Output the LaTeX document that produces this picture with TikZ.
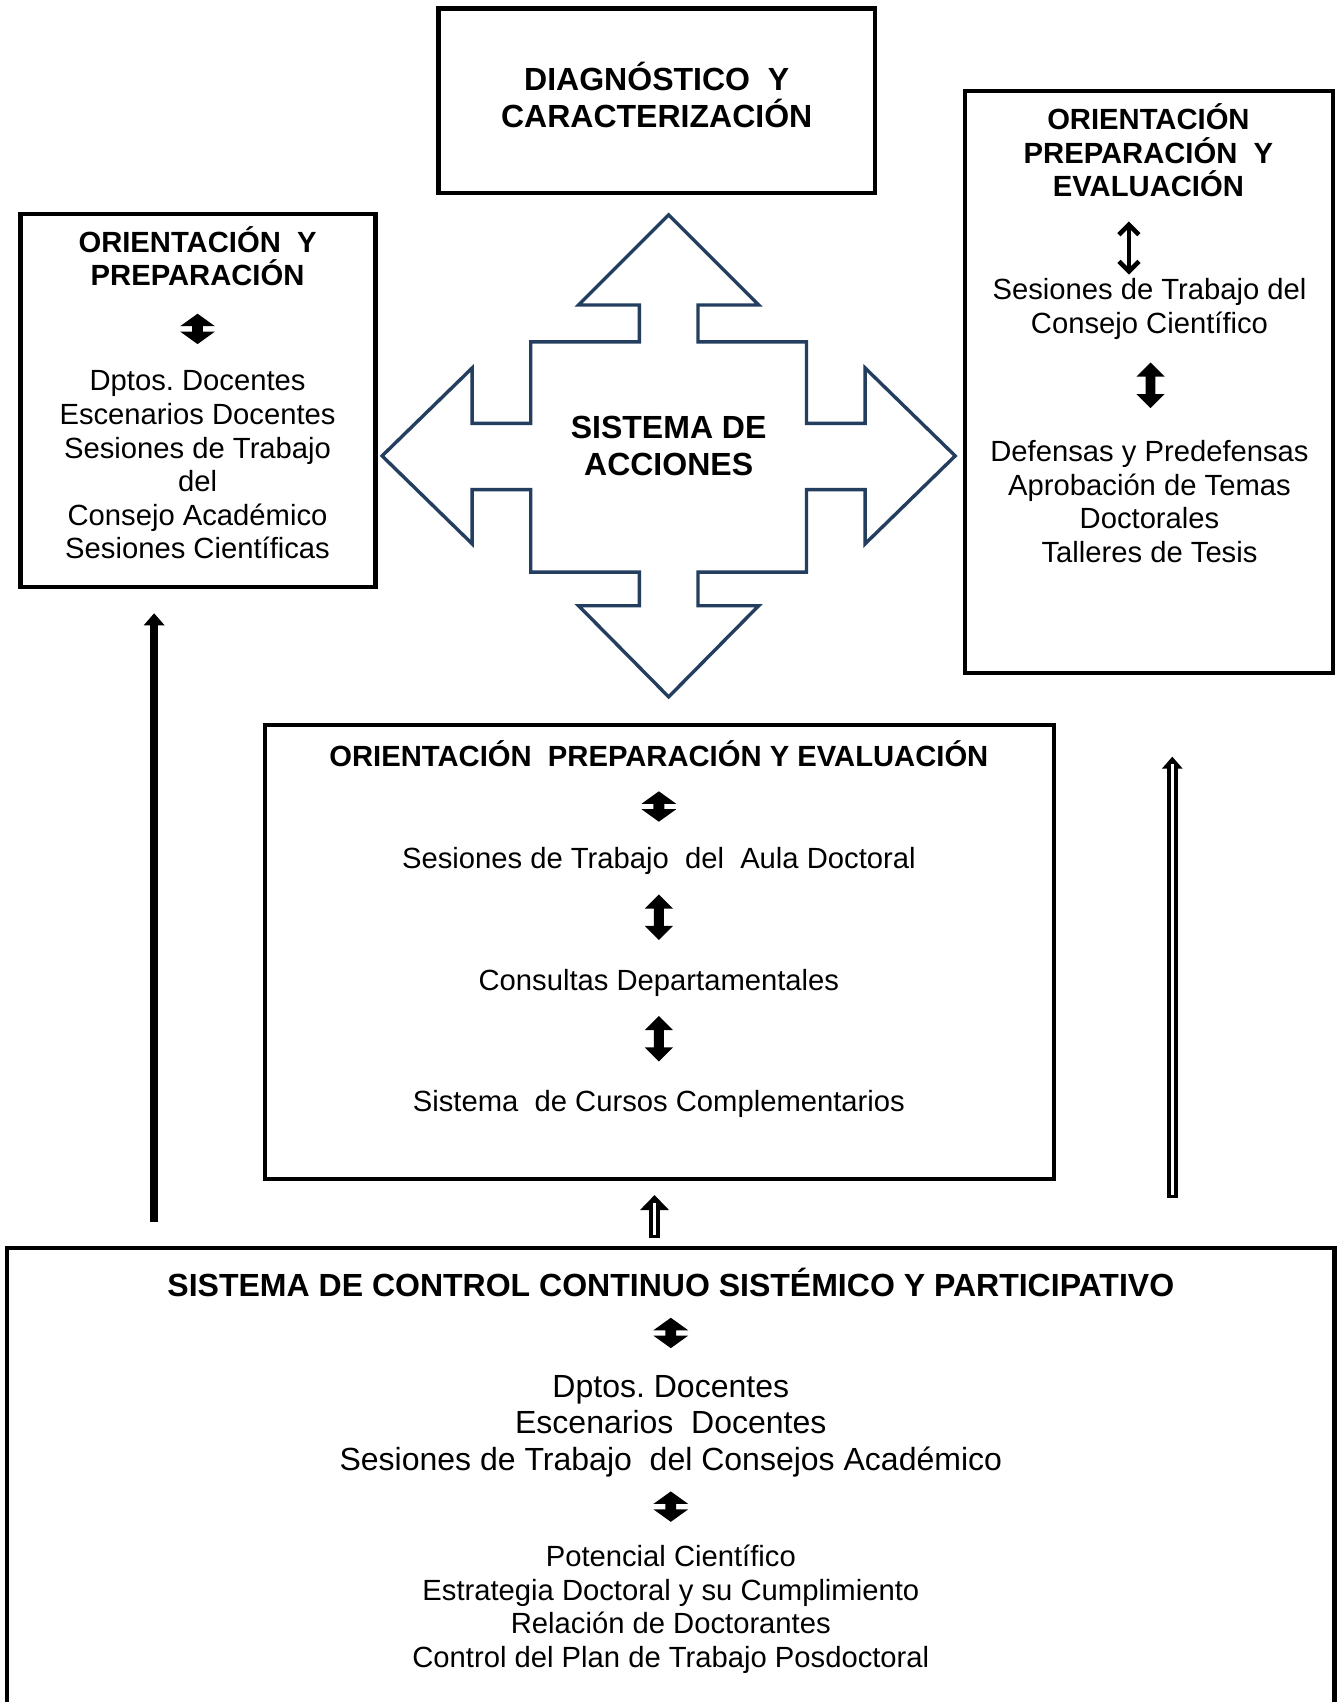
\documentclass[tikz,border=0pt]{standalone}
\usepackage{fontspec}
\setmainfont{Liberation Sans}
\usetikzlibrary{fit,arrows.meta}
\definecolor{navy}{RGB}{36,62,96}
\newcommand{\nolsl}{\lineskiplimit=-20pt\relax}
\frenchspacing
\begin{document}
\begin{tikzpicture}[x=0.5425pt,y=-0.5425pt,
 box/.style={draw, line width=2.2pt, inner sep=0pt},
 ttl/.style={anchor=north, align=center, inner sep=0pt, font={\bfseries\fontsize{14.6}{16.8}\selectfont\nolsl}},
 ttlb/.style={anchor=north, align=center, inner sep=0pt, font={\bfseries\fontsize{16}{18.4}\selectfont\nolsl}},
 txt/.style={anchor=north, align=center, inner sep=0pt, font={\fontsize{14.6}{16.8}\selectfont\nolsl}},
 txtb/.style={anchor=north, align=center, inner sep=0pt, font={\fontsize{16}{18.4}\selectfont\nolsl}},
 udsq/.pic={\fill (0,-14) -- (16,-2.5) -- (5,-2.5) -- (5,2.5) -- (16,2.5) -- (0,14) -- (-16,2.5) -- (-5,2.5) -- (-5,-2.5) -- (-16,-2.5) -- cycle;},
 udtall/.pic={\fill (0,-21) -- (13,-8) -- (4.5,-8) -- (4.5,8) -- (13,8) -- (0,21) -- (-13,8) -- (-4.5,8) -- (-4.5,-8) -- (-13,-8) -- cycle;},
 blockarr/.style={line width=5.5pt},
 slit/.style={white, line width=1.4pt},
]
\useasboundingbox (0,0) rectangle (1232,1568);
\fill[white] (0,0) rectangle (1232,1568);
\clip (0,0) rectangle (1232,1568);

% boxes
\node[box, fit={(404,8) (806,178)}] (top) {};
\node[box, fit={(19,197) (346,541)}] (lbox) {};
\node[box, fit={(889,84) (1228,620)}] (rbox) {};
\node[box, fit={(244,668) (971,1086)}] (mid) {};
\node[inner sep=0pt, fit={(7,1150) (1229,1620)}] (bot) {};
\draw[line width=2.2pt] (bot.south west) -- (bot.north west) -- (bot.north east) -- (bot.south east);

% top box
\node[ttlb] (topt) at (605,57) {\strut DIAGNÓSTICO~ Y\\CARACTERIZACIÓN\strut};

% central four-way arrow
\draw[navy, line width=1.7pt, line join=miter]
 (616,198) -- (699,281) -- (643,281) -- (643,315) -- (743,315) -- (743,390) -- (797,390) -- (797,339)
 -- (880,420) -- (797,501) -- (797,451) -- (743,451) -- (743,527) -- (643,527) -- (643,558) -- (699,558)
 -- (616,642) -- (533,558) -- (589,558) -- (589,527) -- (489,527) -- (489,451) -- (435,451) -- (435,501)
 -- (352,420) -- (435,339) -- (435,390) -- (489,390) -- (489,315) -- (589,315) -- (589,281) -- (533,281) -- cycle;
\node[ttlb] (acc) at (616,380) {\strut SISTEMA DE\\ACCIONES\strut};

% left box
\node[ttl] (lt) at (182,208) {\strut ORIENTACIÓN~ Y\\PREPARACIÓN\strut};
\pic at (182,303) {udsq};
\node[txt] (lb) at (182,338) {\strut Dptos. Docentes\\Escenarios Docentes\\Sesiones de Trabajo\\del\\Consejo Académico\\Sesiones Científicas\strut};

% right box
\node[ttl] (rt) at (1058,95) {\strut ORIENTACIÓN\\PREPARACIÓN~ Y\\EVALUACIÓN\strut};
\draw[line width=2.3pt, {Straight Barb[length=5pt,width=10pt]}-{Straight Barb[length=5pt,width=10pt]}] (1040,204) -- (1040,253);
\node[txt] (rb1) at (1059,254) {\strut Sesiones de Trabajo del\\Consejo Científico\strut};
\pic at (1060,355) {udtall};
\node[txt] (rb2) at (1059,403) {\strut Defensas y Predefensas\\Aprobación de Temas\\Doctorales\\Talleres de Tesis\strut};

% middle box
\node[ttl] (mt) at (607,682) {\strut ORIENTACIÓN~ PREPARACIÓN Y EVALUACIÓN\strut};
\pic at (607,743) {udsq};
\node[txt] (m1) at (607,778) {\strut Sesiones de Trabajo~ del~ Aula Doctoral\strut};
\pic at (607,845) {udtall};
\node[txt] (m2) at (607,890) {\strut Consultas Departamentales\strut};
\pic at (607,957) {udtall};
\node[txt] (m3) at (607,1002) {\strut Sistema~ de Cursos Complementarios\strut};

% bottom box
\node[ttlb] (bt) at (618,1168) {\strut SISTEMA DE CONTROL CONTINUO SISTÉMICO Y PARTICIPATIVO\strut};
\pic at (618,1228) {udsq};
\node[txtb] (b1) at (618,1263) {\strut Dptos. Docentes\\Escenarios~ Docentes\\Sesiones de Trabajo~ del Consejos Académico\strut};
\pic at (618,1388) {udsq};
\node[txt] (b2) at (618,1421) {\strut Potencial Científico\\Estrategia Doctoral y su Cumplimiento\\Relación de Doctorantes\\Control del Plan de Trabajo Posdoctoral\strut};

% connectors
\coordinate (la) at (142,0);
\coordinate (ra) at (1080,0);
\coordinate (ma) at (603,0);
\draw[line width=4.3pt, -{Triangle[length=6pt,width=10pt]}, shorten <=13pt, shorten >=11.9pt] (bot.north -| la) -- (lbox.south -| la);
% right hollow arrow
\draw[blockarr, -{Triangle[length=6pt,width=10pt]}, shorten <=25pt, shorten >=40.7pt] (bot.north -| ra) -- (rbox.south -| ra);
\draw[slit, shorten <=26.6pt, shorten >=44.5pt] (bot.north -| ra) -- (rbox.south -| ra);
% middle hollow arrow
\draw[blockarr, -{Triangle[length=7.5pt,width=14pt]}, shorten <=4.9pt, shorten >=7pt] (bot.north -| ma) -- (mid.south -| ma);
\draw[slit, shorten <=6.5pt, shorten >=10.9pt] (bot.north -| ma) -- (mid.south -| ma);
\end{tikzpicture}
\end{document}
